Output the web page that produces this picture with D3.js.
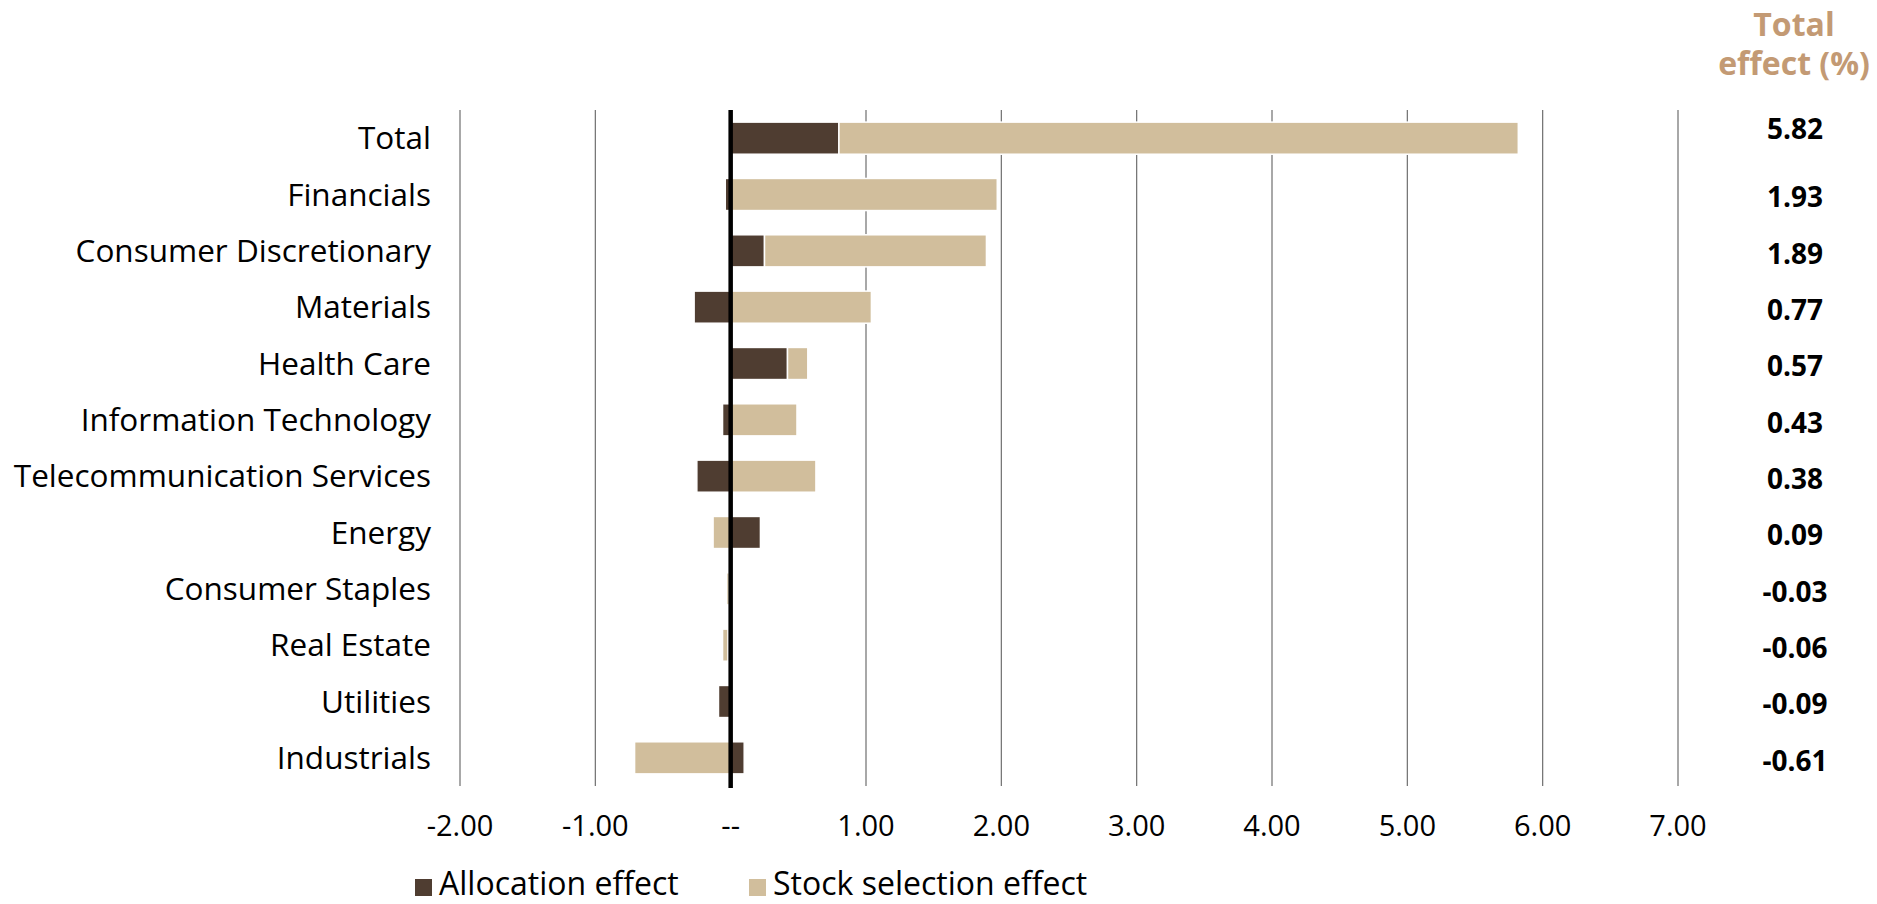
<!DOCTYPE html>
<html>
<head>
<meta charset="utf-8">
<script src="https://cdn.jsdelivr.net/npm/d3@7/dist/d3.min.js"></script>
<style>
  html, body { margin: 0; padding: 0; background: #fff; }
  svg { display: block; font-family: "Open Sans", "Noto Sans", sans-serif; }
</style>
</head>
<body>
<svg id="chart" width="1877" height="904"></svg>
<script>
// Sector attribution: allocation and stock selection effects (%)
const categories = [
  "Total", "Financials", "Consumer Discretionary", "Materials", "Health Care",
  "Information Technology", "Telecommunication Services", "Energy",
  "Consumer Staples", "Real Estate", "Utilities", "Industrials"
];
const allocationEffect = [0.80, -0.04, 0.25, -0.27, 0.42, -0.06, -0.25, 0.22, -0.01, -0.02, -0.09, 0.10];
const selectionEffect  = [5.02, 1.97, 1.64, 1.04, 0.15, 0.49, 0.63, -0.13, -0.02, -0.04, 0.00, -0.71];
const totalEffect      = [5.82, 1.93, 1.89, 0.77, 0.57, 0.43, 0.38, 0.09, -0.03, -0.06, -0.09, -0.61];
const xTicks = [-2, -1, 0, 1, 2, 3, 4, 5, 6, 7];
const seriesNames = ["Allocation effect", "Stock selection effect"];
const seriesColors = ["#4f3d31", "#d1be9c"];

const svg = d3.select("#chart");

const x = d3.scaleLinear().domain([-2, 7]).range([460, 1678]);
const y = d3.scaleBand().domain(categories).range([110, 786])
  .paddingInner(0.43).paddingOuter(0.215);

const rows = categories.map((c, i) => ({
  category: c,
  alloc: allocationEffect[i],
  select: selectionEffect[i]
}));
const stacked = d3.stack()
  .keys(["alloc", "select"])
  .offset(d3.stackOffsetDiverging)(rows);

// two-decimal format with a plain hyphen for negatives
const fmt = v => d3.format(".2f")(v).replace("\u2212", "-");

// vertical gridlines
svg.append("g").selectAll("line")
  .data(xTicks.filter(t => t !== 0))
  .join("line")
  .attr("x1", d => x(d)).attr("x2", d => x(d))
  .attr("y1", 110).attr("y2", 786)
  .attr("stroke", "#6e6e6e").attr("stroke-width", 1.2);

// stacked bars
svg.append("g").selectAll("g")
  .data(stacked)
  .join("g")
  .attr("fill", (d, i) => seriesColors[i])
  .selectAll("rect")
  .data(d => d)
  .join("rect")
  .attr("x", d => x(Math.min(d[0], d[1])))
  .attr("width", d => Math.abs(x(d[1]) - x(d[0])))
  .attr("y", d => y(d.data.category))
  .attr("height", y.bandwidth())
  .attr("stroke", "#fff")
  .attr("stroke-width", 1.5);

// zero line
svg.append("line")
  .attr("x1", x(0)).attr("x2", x(0))
  .attr("y1", 110).attr("y2", 788)
  .attr("stroke", "#000").attr("stroke-width", 4.5);

// category labels
svg.append("g").selectAll("text")
  .data(categories)
  .join("text")
  .attr("x", 431)
  .attr("y", d => y(d) + y.bandwidth() / 2)
  .attr("dy", "0.35em")
  .attr("text-anchor", "end")
  .attr("font-size", 31.5)
  .attr("fill", "#000")
  .text(d => d);

// x tick labels
svg.append("g").selectAll("text")
  .data(xTicks)
  .join("text")
  .attr("x", d => x(d))
  .attr("y", 836)
  .attr("text-anchor", "middle")
  .attr("font-size", 29)
  .attr("fill", "#000")
  .text(d => d === 0 ? "--" : fmt(d));

// total effect column header
const header = ["Total", "effect (%)"];
svg.append("g").selectAll("text")
  .data(header)
  .join("text")
  .attr("x", 1794)
  .attr("y", (d, i) => 36 + i * 39)
  .attr("text-anchor", "middle")
  .attr("font-size", 32)
  .attr("font-weight", 700)
  .attr("fill", "#c39a74")
  .text(d => d);

// total effect values
svg.append("g").selectAll("text")
  .data(totalEffect)
  .join("text")
  .attr("x", 1795)
  .attr("y", (d, i) => y(categories[i]) + y.bandwidth() / 2 + (i === 0 ? -9 : 3))
  .attr("dy", "0.35em")
  .attr("text-anchor", "middle")
  .attr("font-size", 28)
  .attr("font-weight", 700)
  .attr("fill", "#000")
  .text(d => fmt(d));

// legend
const legend = svg.append("g");
const legendX = [415, 749];
seriesNames.forEach((name, i) => {
  legend.append("rect")
    .attr("x", legendX[i]).attr("y", 879)
    .attr("width", 17).attr("height", 17)
    .attr("fill", seriesColors[i]);
  legend.append("text")
    .attr("x", legendX[i] + 24).attr("y", 895)
    .attr("font-size", 32)
    .attr("fill", "#000")
    .text(name);
});
</script>
</body>
</html>
